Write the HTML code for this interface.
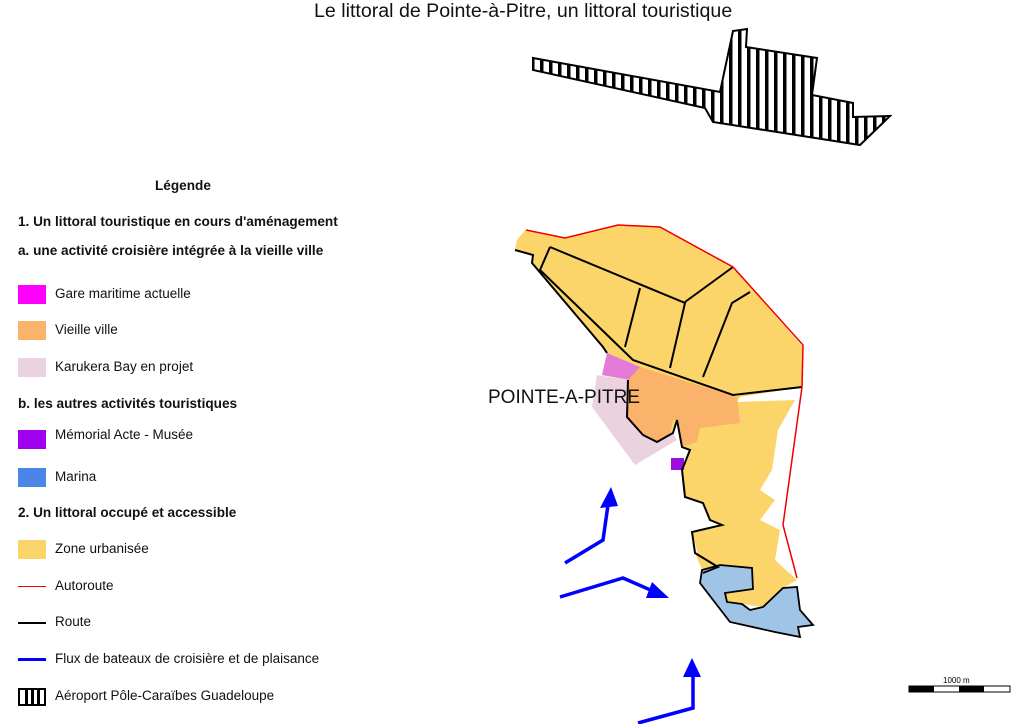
<!DOCTYPE html>
<html><head><meta charset="utf-8"><style>
body{margin:0;background:#fff;width:1024px;height:724px;overflow:hidden;font-family:"Liberation Sans",sans-serif;}
.t{position:absolute;font-size:13.5px;color:#111;white-space:nowrap}
.b{font-weight:bold;font-size:13.6px}
.sw{position:absolute;left:18px;width:28px;height:19px}
</style></head><body>
<div class="t" style="left:314px;top:0px;font-size:19.6px">Le littoral de Pointe-à-Pitre, un littoral touristique</div>
<div class="t b" style="left:155px;top:178px">Légende</div>
<div class="t b" style="left:18px;top:214px">1. Un littoral touristique en cours d'aménagement</div>
<div class="t b" style="left:18px;top:243px">a. une activité croisière intégrée à la vieille ville</div>
<div class="sw" style="top:285px;background:#ff00ff"></div><div class="t" style="left:55px;top:286px">Gare maritime actuelle</div>
<div class="sw" style="top:321px;background:#fbb26a"></div><div class="t" style="left:55px;top:322px">Vieille ville</div>
<div class="sw" style="top:358px;background:#ead3df"></div><div class="t" style="left:55px;top:359px">Karukera Bay en projet</div>
<div class="t b" style="left:18px;top:396px">b. les autres activités touristiques</div>
<div class="sw" style="top:430px;background:#a000f0"></div><div class="t" style="left:55px;top:427px">Mémorial Acte - Musée</div>
<div class="sw" style="top:468px;background:#4a86e8"></div><div class="t" style="left:55px;top:469px">Marina</div>
<div class="t b" style="left:18px;top:505px">2. Un littoral occupé et accessible</div>
<div class="sw" style="top:540px;background:#fcd56a"></div><div class="t" style="left:55px;top:541px">Zone urbanisée</div>
<div style="position:absolute;left:18px;top:586px;width:28px;height:1px;background:#e00"></div><div class="t" style="left:55px;top:578px">Autoroute</div>
<div style="position:absolute;left:18px;top:622px;width:28px;height:2px;background:#000"></div><div class="t" style="left:55px;top:614px">Route</div>
<div style="position:absolute;left:18px;top:658px;width:28px;height:3px;background:#00f"></div><div class="t" style="left:55px;top:651px">Flux de bateaux de croisière et de plaisance</div>
<svg style="position:absolute;left:18px;top:688px" width="28" height="18"><rect x="1" y="1" width="26" height="16" fill="#fff" stroke="#000" stroke-width="2"/><rect x="7" y="1" width="3" height="16"/><rect x="13" y="1" width="3" height="16"/><rect x="19" y="1" width="3" height="16"/></svg>
<div class="t" style="left:55px;top:688px">Aéroport Pôle-Caraïbes Guadeloupe</div>
<svg style="position:absolute;left:0;top:0" width="1024" height="724">
<defs><pattern id="st" width="9" height="10" patternUnits="userSpaceOnUse"><rect width="9" height="10" fill="#fff"/><rect x="0" width="3.5" height="10" fill="#000"/></pattern></defs>
<polygon points="533,58 720,92 733,31 747,29 746,47 817,58 812,95 853,103 853,117 890,116 860,145 713,122 705,108 533,70" fill="url(#st)" stroke="#000" stroke-width="2"/>
<polygon points="517,240 525,230 563,238 618,225 660,227 733,267 803,347 802,387 740,397 737,402 795,400 778,430 772,470 760,490 775,500 760,520 780,530 775,560 797,580 783,588 763,607 742,604 727,602 725,593 753,589 752,568 720,565 702,570 695,553 718,567 703,573 692,532 722,525 710,520 703,503 685,497 682,470 690,450 682,447 677,420 673,433 657,442 643,435 627,417 628,380 602,375 607,353 603,347 533,263 532,255 515,250" fill="#fcd56a"/>
<polygon points="597,375 628,380 627,417 643,435 657,442 673,433 677,440 635,465 592,407" fill="#ead3df"/>
<polygon points="607,353 640,367 630,380 602,375" fill="#e37bd6"/>
<polygon points="640,367 737,397 740,423 700,428 697,442 682,447 677,420 673,420 670,435 657,442 643,435 627,417 628,380" fill="#fbb26a"/>
<rect x="671" y="458" width="13" height="12" fill="#9b10e0"/>
<polygon points="702,570 720,565 752,568 753,589 725,593 727,602 742,604 750,610 763,607 783,588 797,587 800,610 813,625 798,627 800,637 775,632 730,622 700,583" fill="#9fc4e6" stroke="#000" stroke-width="1.8"/>
<g fill="none" stroke="#000" stroke-width="2">
<polyline points="515,250 533,255 532,263 603,347 607,353"/>
<polyline points="550,247 540,270 633,360 733,395 802,387"/>
<polyline points="550,247 685,303 670,368"/>
<polyline points="640,288 625,347"/>
<polyline points="685,302 733,267"/>
<polyline points="750,292 732,303 703,377"/>
<polyline points="628,380 627,417 643,435 657,442 673,433 677,420 682,447 690,450 682,470 685,497 703,503 710,520 722,525 692,532 695,553 718,567 703,573"/>
</g>
<polyline points="526,230 565,238 618,225 660,227 733,267 803,345 802,387 783,525 797,578" fill="none" stroke="#e00" stroke-width="1.5"/>
<g fill="none" stroke="#00f" stroke-width="3.5">
<polyline points="565,563 603,540 608,505"/>
<polyline points="560,597 623,578 655,592"/>
<polyline points="638,723 693,708 693,677"/>
</g>
<g fill="#00f">
<polygon points="611,487 600,508 618,506"/>
<polygon points="669,598 652,582 646,598"/>
<polygon points="692,658 683,677 701,677"/>
</g>
<rect x="909" y="686" width="101" height="6" fill="#fff" stroke="#000" stroke-width="1"/>
<rect x="909" y="686" width="25" height="6"/><rect x="959" y="686" width="25" height="6"/>
<text x="943" y="683" font-size="8" font-family="Liberation Sans">1000 m</text>
</svg>
<div class="t" style="left:488px;top:387px;font-size:19px">POINTE-A-PITRE</div>
</body></html>
